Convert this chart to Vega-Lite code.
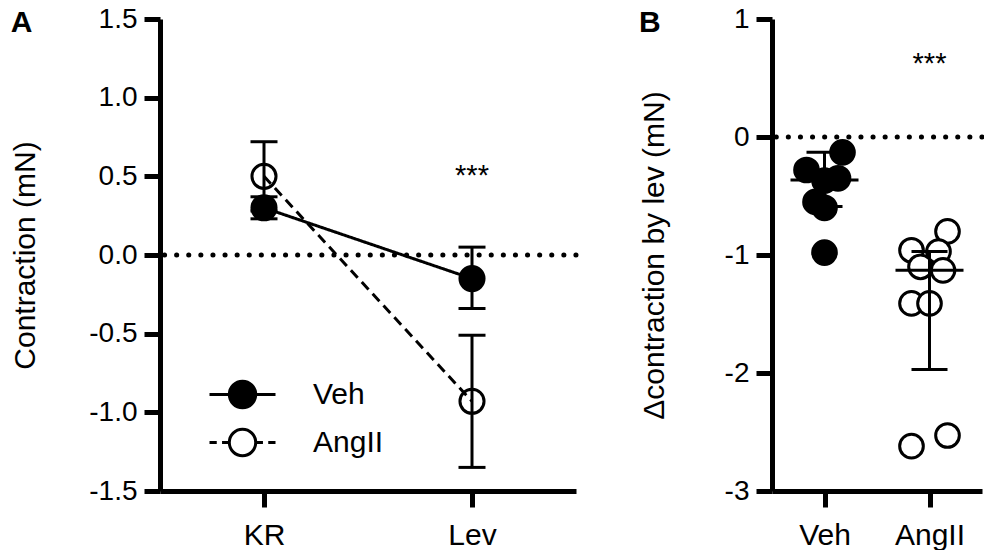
{
  "$schema": "https://vega.github.io/schema/vega-lite/v6.json",
  "autosize": {"type": "pad"},
  "padding": {"left": 10, "top": 5, "right": 0, "bottom": 0},
  "background": "white",
  "config": {
    "view": {"stroke": null},
    "font": "Liberation Sans",
    "axis": {
      "domainColor": "black", "domainWidth": 5, "tickColor": "black", "tickWidth": 5, "tickSize": 16,
      "labelColor": "black", "labelFont": "Liberation Sans", "labelFontSize": 28, "labelPadding": 7,
      "titleFont": "Liberation Sans", "titleFontSize": 30, "titleFontWeight": "normal", "titleColor": "black",
      "grid": false
    },
    "title": {"font": "Liberation Sans", "fontSize": 30, "fontWeight": "bold", "color": "black", "anchor": "start", "frame": "bounds"}
  },
  "datasets": {
    "panelA": [
      {"cond": "KR", "group": "Veh", "mean": 0.30, "lo": 0.23, "hi": 0.37},
      {"cond": "Lev", "group": "Veh", "mean": -0.15, "lo": -0.34, "hi": 0.05},
      {"cond": "KR", "group": "AngII", "mean": 0.50, "lo": 0.28, "hi": 0.72},
      {"cond": "Lev", "group": "AngII", "mean": -0.93, "lo": -1.35, "hi": -0.51}
    ],
    "panelBpoints": [
      {"group": "Veh", "col": 9, "value": -0.13},
      {"group": "Veh", "col": 1, "value": -0.28},
      {"group": "Veh", "col": 8, "value": -0.35},
      {"group": "Veh", "col": 5, "value": -0.37},
      {"group": "Veh", "col": 3, "value": -0.55},
      {"group": "Veh", "col": 5, "value": -0.60},
      {"group": "Veh", "col": 5, "value": -0.98},
      {"group": "AngII", "col": 9, "value": -0.80},
      {"group": "AngII", "col": 1, "value": -0.96},
      {"group": "AngII", "col": 7, "value": -0.97},
      {"group": "AngII", "col": 3, "value": -1.10},
      {"group": "AngII", "col": 8, "value": -1.13},
      {"group": "AngII", "col": 1, "value": -1.41},
      {"group": "AngII", "col": 5, "value": -1.41},
      {"group": "AngII", "col": 1, "value": -2.62},
      {"group": "AngII", "col": 9, "value": -2.53}
    ],
    "panelBsummary": [
      {"group": "Veh", "mid": -0.365, "lo": -0.59, "hi": -0.13},
      {"group": "AngII", "mid": -1.13, "lo": -1.97, "hi": -0.97}
    ]
  },
  "spacing": 196,
  "bounds": "flush",
  "resolve": {"scale": {"fill": "independent", "x": "independent", "y": "independent"}, "legend": {"fill": "independent"}},
  "hconcat": [
    {
      "width": 416,
      "height": 472,
      "title": {"text": "A", "offset": -28, "dy": 29, "baseline": "alphabetic"},
      "layer": [
        {
          "data": {"values": [{}]},
          "mark": {"type": "rule", "strokeDash": [0.1, 12], "strokeCap": "round", "strokeWidth": 5, "color": "black"},
          "encoding": {"y": {"datum": 0, "type": "quantitative"}}
        },
        {
          "data": {"name": "panelA"},
          "mark": {"type": "point", "filled": true, "size": 580, "stroke": "black", "strokeWidth": 3, "opacity": 1},
          "encoding": {
            "x": {"field": "cond", "type": "nominal", "scale": {"type": "point", "padding": 0.5, "domain": ["KR", "Lev"]},
                  "axis": {"title": null, "labelAngle": 0, "labelFontSize": 30, "labelPadding": 13, "tickSize": 16}},
            "y": {"field": "mean", "type": "quantitative", "scale": {"domain": [-1.5, 1.5], "nice": false, "zero": false},
                  "axis": {"title": "Contraction (mN)", "values": [-1.5, -1, -0.5, 0, 0.5, 1, 1.5],
                           "labelExpr": "datum.value < 0 ? '-' + format(-datum.value, '.1f') : format(datum.value, '.1f')",
                           "titlePadding": 48}},
            "fill": {"field": "group", "type": "nominal", "scale": {"domain": ["Veh", "AngII"], "range": ["black", "white"]},
                     "legend": {
                       "orient": "none", "legendX": 59, "legendY": 352, "title": null, "padding": 0,
                       "symbolSize": 1936, "symbolStrokeColor": "black", "symbolStrokeWidth": 3, "symbolOpacity": 1,
                       "labelFontSize": 30, "labelFont": "Liberation Sans", "labelColor": "black", "labelOffset": 47, "rowPadding": 5,
                       "encode": {"symbols": {"update": {
                         "shape": {"signal": "datum.value === 'Veh' ? 'M-1.5,0H-0.6M0.6,0H1.5M0.6,0A0.6,0.6,0,1,1,-0.6,0A0.6,0.6,0,1,1,0.6,0Z' : 'M-1.5,0H-1.17M-0.93,0H-0.6M0.6,0H0.93M1.17,0H1.5M0.6,0A0.6,0.6,0,1,1,-0.6,0A0.6,0.6,0,1,1,0.6,0Z'"}}}}
                     }}
          }
        },
        {
          "data": {"name": "panelA"},
          "mark": {"type": "line", "color": "black", "strokeWidth": 3},
          "encoding": {
            "x": {"field": "cond", "type": "nominal"},
            "y": {"field": "mean", "type": "quantitative"},
            "detail": {"field": "group", "type": "nominal"},
            "strokeDash": {"condition": {"test": "datum.group === 'AngII'", "value": [10, 6]}, "value": [1, 0]}
          }
        },
        {
          "data": {"name": "panelA"},
          "mark": {"type": "rule", "color": "black", "strokeWidth": 3},
          "encoding": {
            "x": {"field": "cond", "type": "nominal"},
            "y": {"field": "lo", "type": "quantitative"},
            "y2": {"field": "hi"}
          }
        },
        {
          "data": {"name": "panelA"},
          "mark": {"type": "tick", "color": "black", "size": 27, "thickness": 3, "opacity": 1},
          "encoding": {
            "x": {"field": "cond", "type": "nominal"},
            "y": {"field": "lo", "type": "quantitative"}
          }
        },
        {
          "data": {"name": "panelA"},
          "mark": {"type": "tick", "color": "black", "size": 27, "thickness": 3, "opacity": 1},
          "encoding": {
            "x": {"field": "cond", "type": "nominal"},
            "y": {"field": "hi", "type": "quantitative"}
          }
        },
        {
          "data": {"values": [{"label": "***"}]},
          "mark": {"type": "text", "fontSize": 29, "font": "Liberation Sans", "color": "black", "baseline": "alphabetic", "align": "center"},
          "encoding": {
            "x": {"datum": "Lev"},
            "y": {"datum": 0.445, "type": "quantitative"},
            "text": {"field": "label"}
          }
        }
      ]
    },
    {
      "width": 210,
      "height": 472,
      "title": {"text": "B", "offset": -28, "dy": 29, "baseline": "alphabetic"},
      "layer": [
        {
          "data": {"values": [{}]},
          "mark": {"type": "rule", "strokeDash": [0.1, 12], "strokeCap": "round", "strokeWidth": 5, "color": "black"},
          "encoding": {"y": {"datum": 0, "type": "quantitative"}}
        },
        {
          "data": {"name": "panelBpoints"},
          "mark": {"type": "point", "filled": true, "size": 560, "stroke": "black", "strokeWidth": 3, "opacity": 1},
          "encoding": {
            "x": {"field": "group", "type": "nominal", "scale": {"type": "point", "padding": 0.5, "domain": ["Veh", "AngII"]},
                  "axis": {"title": null, "labelAngle": 0, "labelFontSize": 30, "labelPadding": 13, "tickSize": 16}},
            "xOffset": {"field": "col", "type": "ordinal", "scale": {"type": "point", "domain": [1, 2, 3, 4, 5, 6, 7, 8, 9], "range": [-18, 18], "padding": 0}},
            "y": {"field": "value", "type": "quantitative", "scale": {"domain": [-3, 1], "nice": false, "zero": false},
                  "axis": {"title": "Δcontraction by lev (mN)", "values": [-3, -2, -1, 0, 1],
                           "labelExpr": "datum.value < 0 ? '-' + format(-datum.value, 'd') : format(datum.value, 'd')",
                           "titlePadding": 55}},
            "fill": {"field": "group", "type": "nominal", "scale": {"domain": ["Veh", "AngII"], "range": ["black", "white"]}, "legend": null}
          }
        },
        {
          "data": {"name": "panelBsummary"},
          "mark": {"type": "tick", "color": "black", "size": 68, "thickness": 3, "opacity": 1},
          "encoding": {
            "x": {"field": "group", "type": "nominal"},
            "y": {"field": "mid", "type": "quantitative"}
          }
        },
        {
          "data": {"name": "panelBsummary"},
          "mark": {"type": "rule", "color": "black", "strokeWidth": 3},
          "encoding": {
            "x": {"field": "group", "type": "nominal"},
            "y": {"field": "lo", "type": "quantitative"},
            "y2": {"field": "hi"}
          }
        },
        {
          "data": {"name": "panelBsummary"},
          "mark": {"type": "tick", "color": "black", "size": 36, "thickness": 3, "opacity": 1},
          "encoding": {
            "x": {"field": "group", "type": "nominal"},
            "y": {"field": "lo", "type": "quantitative"}
          }
        },
        {
          "data": {"name": "panelBsummary"},
          "mark": {"type": "tick", "color": "black", "size": 36, "thickness": 3, "opacity": 1},
          "encoding": {
            "x": {"field": "group", "type": "nominal"},
            "y": {"field": "hi", "type": "quantitative"}
          }
        },
        {
          "data": {"values": [{"label": "***"}]},
          "mark": {"type": "text", "fontSize": 29, "font": "Liberation Sans", "color": "black", "baseline": "alphabetic", "align": "center"},
          "encoding": {
            "x": {"datum": "AngII"},
            "y": {"datum": 0.54, "type": "quantitative"},
            "text": {"field": "label"}
          }
        }
      ]
    }
  ]
}
